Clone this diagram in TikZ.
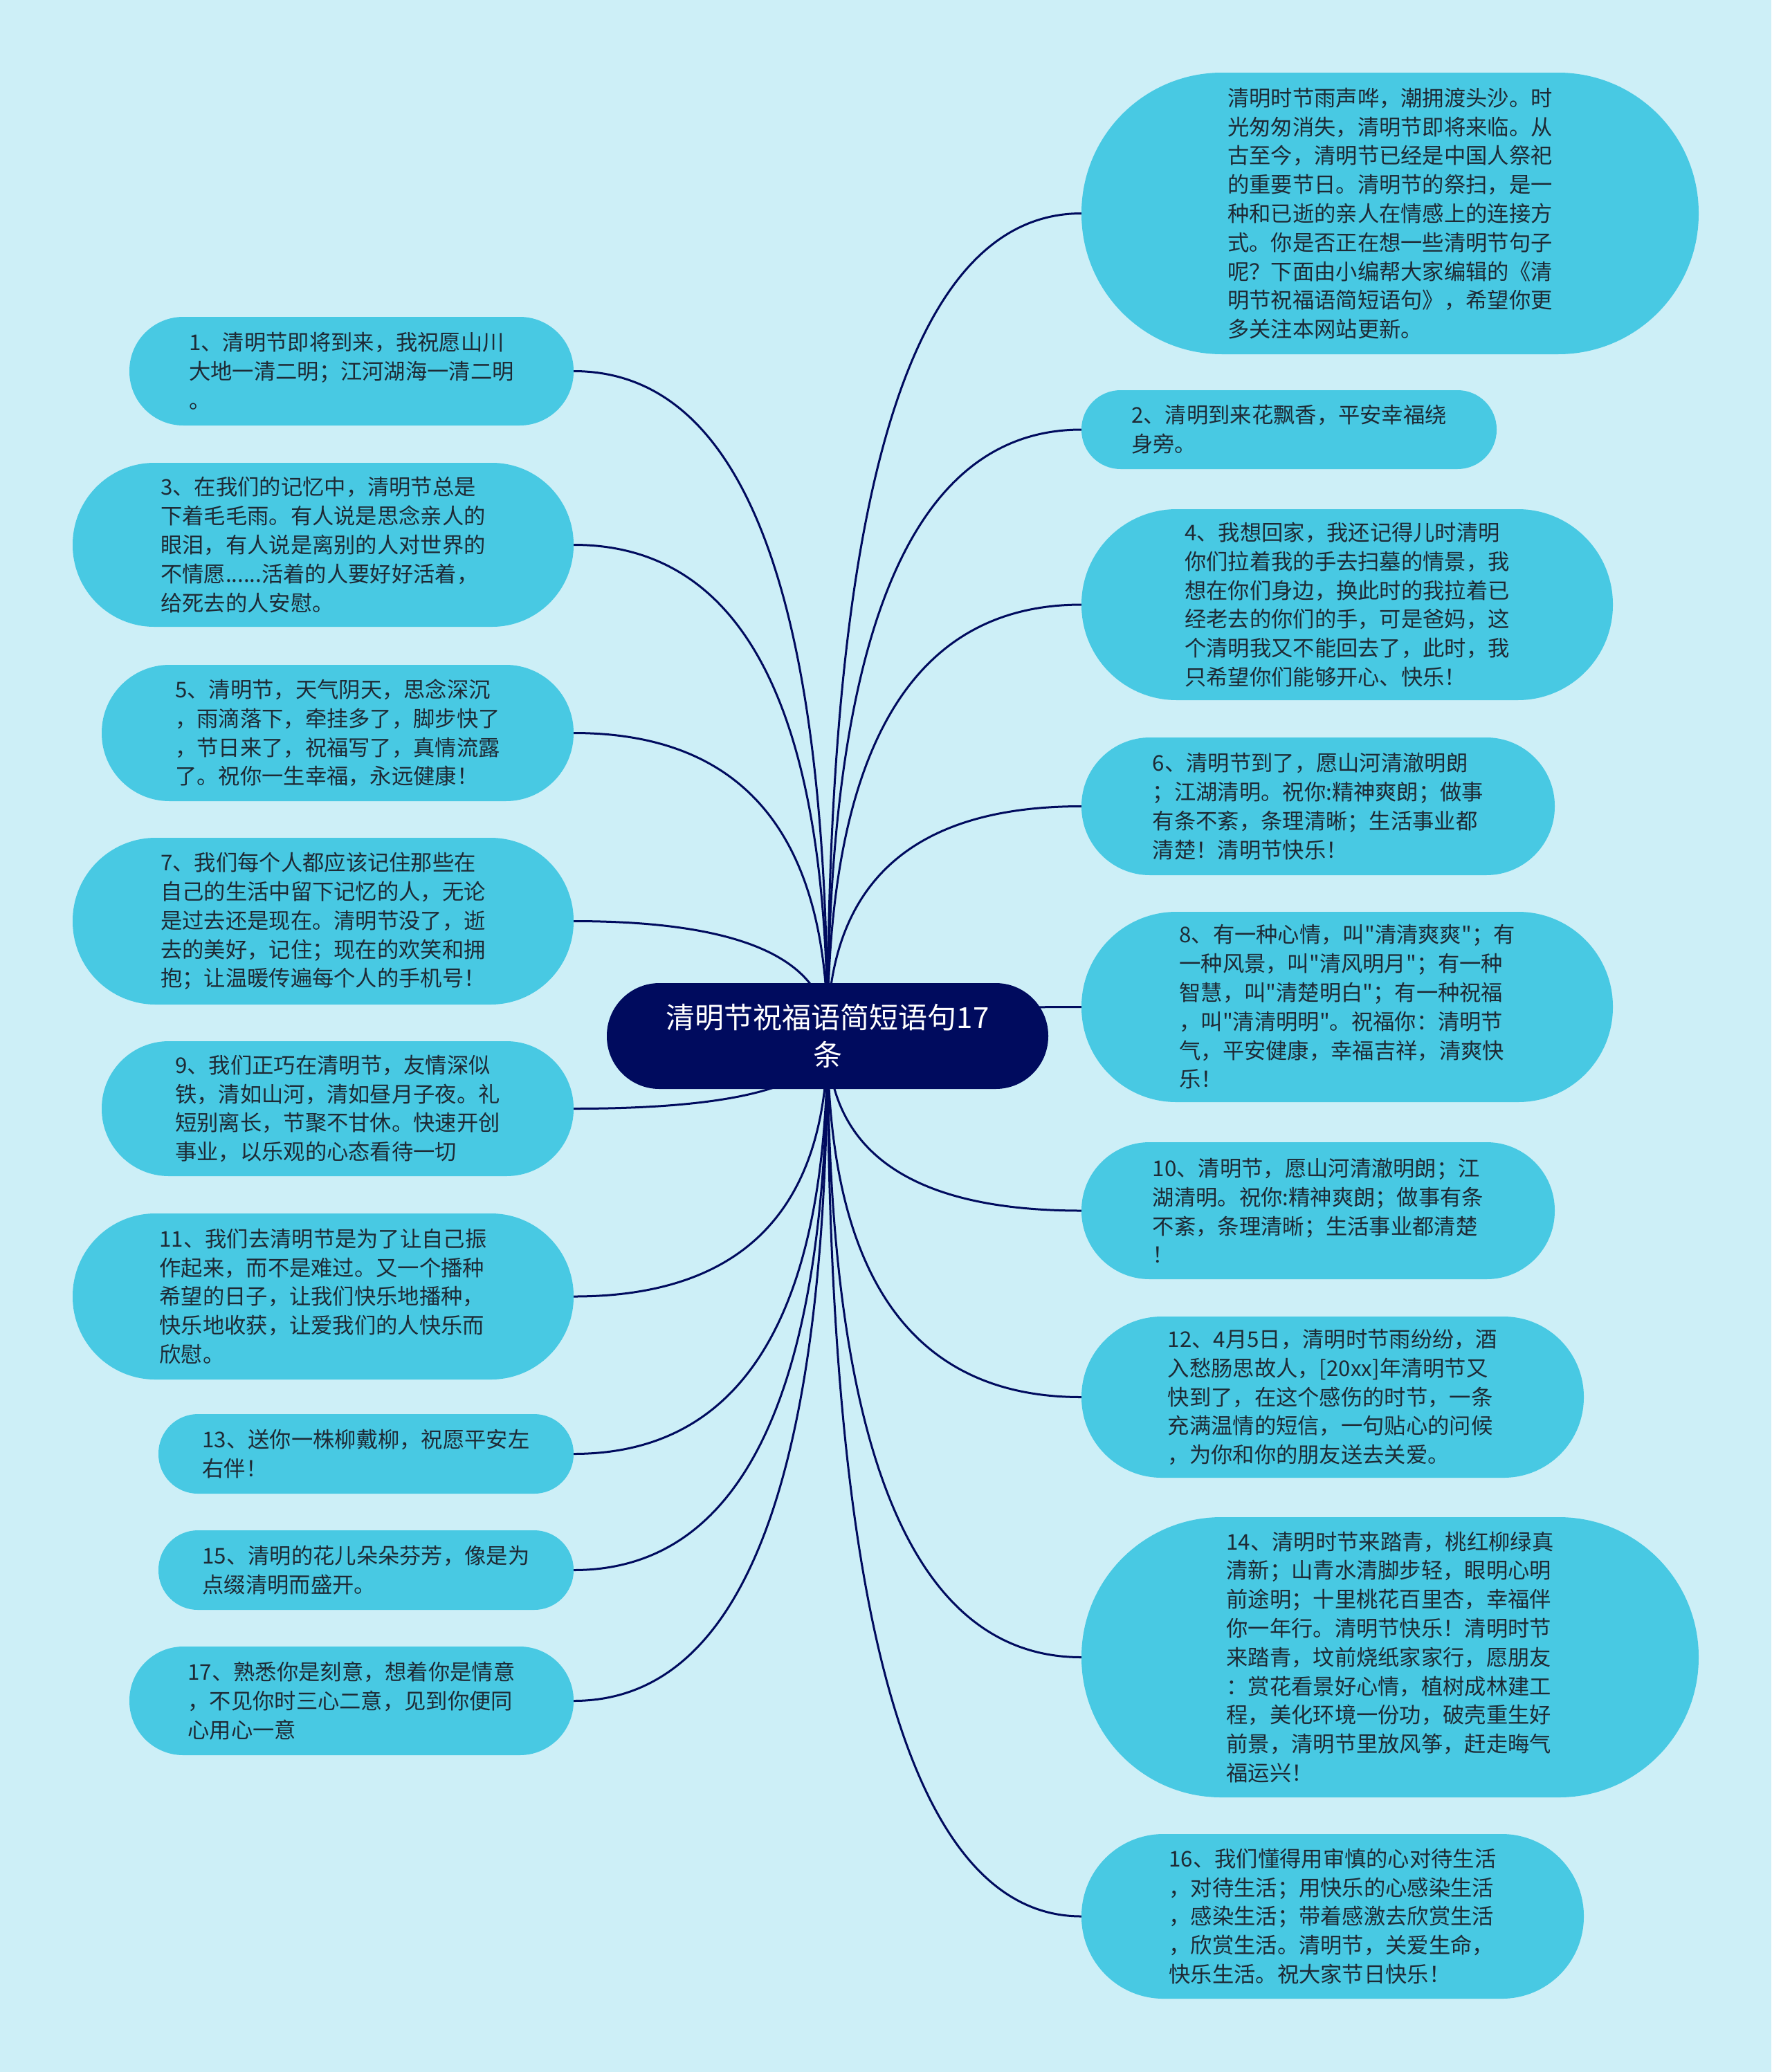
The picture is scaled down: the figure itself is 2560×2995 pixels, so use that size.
\documentclass[tikz,border=0pt]{standalone}
\usepackage{fontspec}
\setmainfont{Noto Sans CJK SC}[Ligatures=TeXOff]
\usetikzlibrary{calc}
\definecolor{bgc}{HTML}{CDEFF7}
\definecolor{leafc}{HTML}{48C9E3}
\definecolor{rootc}{HTML}{000B5E}
\definecolor{txtc}{HTML}{1E2A35}
\pgfdeclarelayer{back}\pgfdeclarelayer{edge}\pgfsetlayers{back,edge,main}
\tikzset{
 leaf/.style={fill=leafc,text=txtc,align=left,inner sep=0pt,font=\fontsize{31.3}{41.8}\selectfont},
 rootbox/.style={fill=rootc,text=white,align=center,inner sep=0pt,font=\fontsize{42}{54}\selectfont},
 link/.style={draw=rootc,line width=3pt}
}
\newcommand\leafnode[6]{\node[leaf,minimum width=#4pt,minimum height=#5pt,rounded corners=#5pt/2-0.5pt] (#1) at (#2,#3) {#6};}
\begin{document}
\begin{tikzpicture}[x=1pt,y=-1pt]
\begin{pgfonlayer}{back}
\fill[bgc] (0,0) rectangle (2560,2995);
\end{pgfonlayer}
\useasboundingbox (0,0) rectangle (2560,2995);

\node[rootbox,minimum width=638pt,minimum height=153pt,rounded corners=76pt] (root) at (1196,1497.5) {清明节祝福语简短语句17\\条};

% right side
\leafnode{R0}{2009}{308.5}{892}{407}{清明时节雨声哗，潮拥渡头沙。时\\光匆匆消失，清明节即将来临。从\\古至今，清明节已经是中国人祭祀\\的重要节日。清明节的祭扫，是一\\种和已逝的亲人在情感上的连接方\\式。你是否正在想一些清明节句子\\呢？下面由小编帮大家编辑的《清\\明节祝福语简短语句》，希望你更\\多关注本网站更新。}
\leafnode{R2}{1863}{621}{600}{114}{2、清明到来花飘香，平安幸福绕\\身旁。}
\leafnode{R4}{1947}{874}{768}{276}{4、我想回家，我还记得儿时清明\\你们拉着我的手去扫墓的情景，我\\想在你们身边，换此时的我拉着已\\经老去的你们的手，可是爸妈，这\\个清明我又不能回去了，此时，我\\只希望你们能够开心、快乐！}
\leafnode{R6}{1905}{1165.5}{684}{199}{6、清明节到了，愿山河清澈明朗\\；江湖清明。祝你:精神爽朗；做事\\有条不紊，条理清晰；生活事业都\\清楚！清明节快乐！}
\leafnode{R8}{1947}{1455.5}{768}{275}{8、有一种心情，叫"清清爽爽"；有\\一种风景，叫"清风明月"；有一种\\智慧，叫"清楚明白"；有一种祝福\\，叫"清清明明"。祝福你：清明节\\气，平安健康，幸福吉祥，清爽快\\乐！}
\leafnode{R10}{1905}{1750}{684}{198}{10、清明节，愿山河清澈明朗；江\\湖清明。祝你:精神爽朗；做事有条\\不紊，条理清晰；生活事业都清楚\\！}
\leafnode{R12}{1926}{2019.5}{726}{233}{12、4月5日，清明时节雨纷纷，酒\\入愁肠思故人，[20xx]年清明节又\\快到了，在这个感伤的时节，一条\\充满温情的短信，一句贴心的问候\\，为你和你的朋友送去关爱。}
\leafnode{R14}{2009}{2395.5}{892}{405}{14、清明时节来踏青，桃红柳绿真\\清新；山青水清脚步轻，眼明心明\\前途明；十里桃花百里杏，幸福伴\\你一年行。清明节快乐！清明时节\\来踏青，坟前烧纸家家行，愿朋友\\：赏花看景好心情，植树成林建工\\程，美化环境一份功，破壳重生好\\前景，清明节里放风筝，赶走晦气\\福运兴！}
\leafnode{R16}{1926}{2770}{726}{238}{16、我们懂得用审慎的心对待生活\\，对待生活；用快乐的心感染生活\\，感染生活；带着感激去欣赏生活\\，欣赏生活。清明节，关爱生命，\\快乐生活。祝大家节日快乐！}

% left side
\leafnode{L1}{508}{536.5}{642}{157}{1、清明节即将到来，我祝愿山川\\大地一清二明；江河湖海一清二明\\。}
\leafnode{L3}{467}{787.5}{724}{237}{3、在我们的记忆中，清明节总是\\下着毛毛雨。有人说是思念亲人的\\眼泪，有人说是离别的人对世界的\\不情愿......活着的人要好好活着，\\给死去的人安慰。}
\leafnode{L5}{488}{1059.5}{682}{197}{5、清明节，天气阴天，思念深沉\\，雨滴落下，牵挂多了，脚步快了\\，节日来了，祝福写了，真情流露\\了。祝你一生幸福，永远健康！}
\leafnode{L7}{467}{1331.5}{724}{241}{7、我们每个人都应该记住那些在\\自己的生活中留下记忆的人，无论\\是过去还是现在。清明节没了，逝\\去的美好，记住；现在的欢笑和拥\\抱；让温暖传遍每个人的手机号！}
\leafnode{L9}{488}{1602.5}{682}{195}{9、我们正巧在清明节，友情深似\\铁，清如山河，清如昼月子夜。礼\\短别离长，节聚不甘休。快速开创\\事业，以乐观的心态看待一切}
\leafnode{L11}{467}{1874}{724}{240}{11、我们去清明节是为了让自己振\\作起来，而不是难过。又一个播种\\希望的日子，让我们快乐地播种，\\快乐地收获，让爱我们的人快乐而\\欣慰。}
\leafnode{L13}{529}{2101.5}{600}{115}{13、送你一株柳戴柳，祝愿平安左\\右伴！}
\leafnode{L15}{529}{2269.5}{600}{115}{15、清明的花儿朵朵芬芳，像是为\\点缀清明而盛开。}
\leafnode{L17}{508}{2458.5}{642}{157}{17、熟悉你是刻意，想着你是情意\\，不见你时三心二意，见到你便同\\心用心一意}

\begin{pgfonlayer}{edge}
\foreach \n in {R0,R2,R4,R6,R8,R10,R12,R14,R16}
  \draw[link] (root.center) .. controls ($(root.center)!0.6667!(root.center |- \n.west)$) and ($(\n.west)!0.6667!(root.center |- \n.west)$) .. (\n.west);
\foreach \n in {L1,L3,L5,L7,L9,L11,L13,L15,L17}
  \draw[link] (root.center) .. controls ($(root.center)!0.6667!(root.center |- \n.east)$) and ($(\n.east)!0.6667!(root.center |- \n.east)$) .. (\n.east);
\end{pgfonlayer}
\end{tikzpicture}
\end{document}
